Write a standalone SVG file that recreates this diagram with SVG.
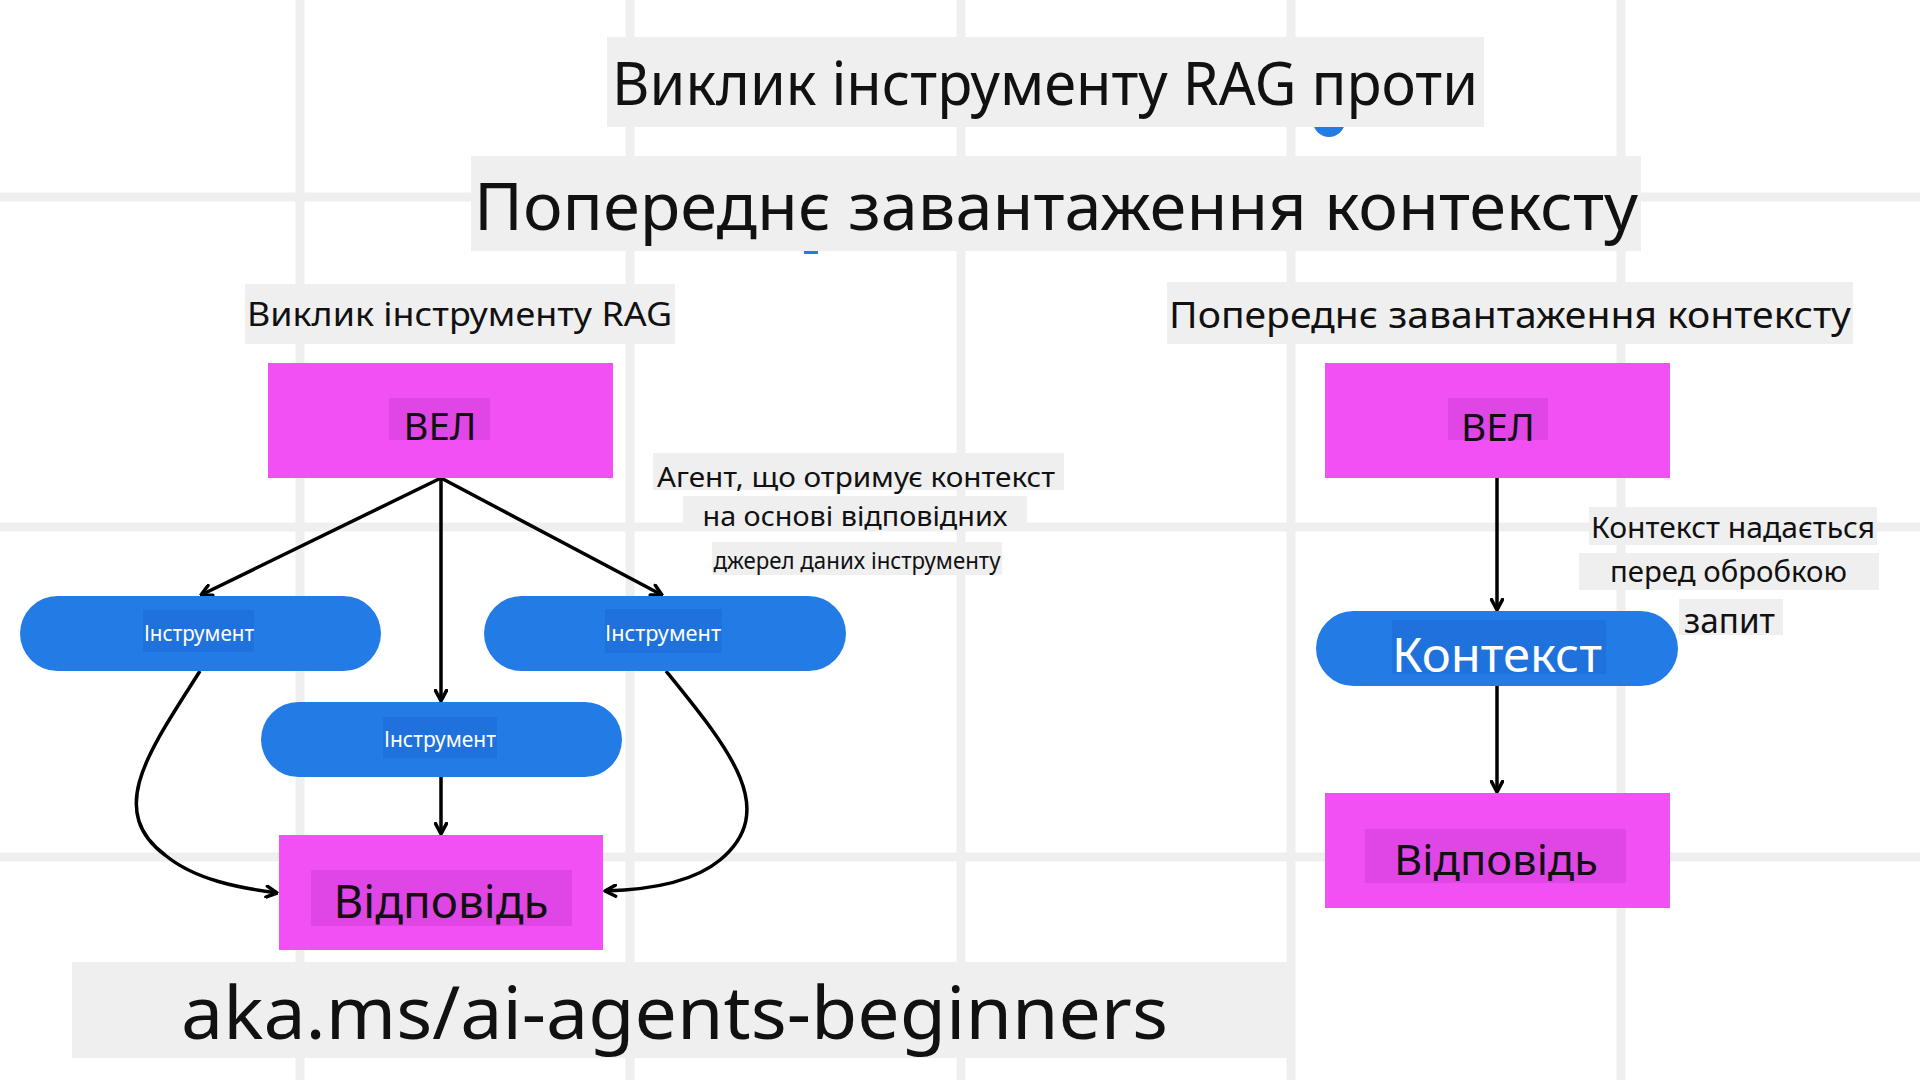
<svg xmlns="http://www.w3.org/2000/svg" width="1920" height="1080" viewBox="0 0 1920 1080">
<defs>
<style>
.grid{stroke:#efefef;stroke-width:9}
.lbl{fill:#efefef}
.t{font-family:"Noto Sans","Open Sans","DejaVu Sans",sans-serif;fill:#111;text-anchor:middle}
.w{font-family:"Noto Sans","Open Sans","DejaVu Sans",sans-serif;fill:#fff;text-anchor:middle}
.mag{fill:#f151f4}
.magi{fill:#e046e6}
.blue{fill:#237ce6}
.bluei{fill:#1f72db}
.con{fill:none;stroke:#000;stroke-width:3.5}
</style>
<marker id="ah" viewBox="0 0 14 14" refX="12.5" refY="7" markerWidth="14" markerHeight="14" markerUnits="userSpaceOnUse" orient="auto">
<path d="M2,1.5 L12.5,7 L2,12.5" fill="none" stroke="#000" stroke-width="3.5" stroke-linecap="round" stroke-linejoin="round"/>
</marker>
</defs>
<rect width="1920" height="1080" fill="#fff"/>
<g id="grid">
<line class="grid" x1="300" y1="0" x2="300" y2="1080"/>
<line class="grid" x1="630" y1="0" x2="630" y2="1080"/>
<line class="grid" x1="961" y1="0" x2="961" y2="1080"/>
<line class="grid" x1="1291" y1="0" x2="1291" y2="1080"/>
<line class="grid" x1="1621" y1="0" x2="1621" y2="1080"/>
<line class="grid" x1="0" y1="197" x2="1920" y2="197"/>
<line class="grid" x1="0" y1="527" x2="1920" y2="527"/>
<line class="grid" x1="0" y1="857" x2="1920" y2="857"/>
</g>
<g id="artifacts">
<circle cx="1329" cy="121" r="16" fill="#237ce6"/>
<rect x="804" y="238" width="14" height="16" fill="#237ce6"/>
</g>
<g id="title1">
<rect class="lbl" x="607" y="37" width="877" height="90"/>
<text class="t" x="1045" y="105" font-size="60" textLength="866" lengthAdjust="spacingAndGlyphs">Виклик інструменту RAG проти</text>
</g>
<g id="title2">
<rect class="lbl" x="471" y="156" width="1170" height="95"/>
<text class="t" x="1056" y="230" font-size="66" textLength="1164" lengthAdjust="spacingAndGlyphs">Попереднє завантаження контексту</text>
</g>
<g id="subtitle-left">
<rect class="lbl" x="245" y="284" width="430" height="60"/>
<text class="t" x="459.5" y="326" font-size="32" textLength="425" lengthAdjust="spacingAndGlyphs">Виклик інструменту RAG</text>
</g>
<g id="subtitle-right">
<rect class="lbl" x="1167" y="282" width="686" height="62"/>
<text class="t" x="1510" y="328" font-size="37" textLength="682" lengthAdjust="spacingAndGlyphs">Попереднє завантаження контексту</text>
</g>
<g id="connectors">
<line class="con" x1="441" y1="478" x2="201" y2="595" marker-end="url(#ah)"/>
<line class="con" x1="441" y1="478" x2="441" y2="701" marker-end="url(#ah)"/>
<line class="con" x1="441" y1="478" x2="662" y2="595" marker-end="url(#ah)"/>
<line class="con" x1="441" y1="777" x2="441" y2="834" marker-end="url(#ah)"/>
<path class="con" d="M200,671 C150,750 105,810 165,855 C195,880 240,888 277,893" marker-end="url(#ah)"/>
<path class="con" d="M666,671 C730,750 780,810 720,860 C690,885 640,890 605,891" marker-end="url(#ah)"/>
<line class="con" x1="1497" y1="478" x2="1497" y2="610" marker-end="url(#ah)"/>
<line class="con" x1="1497" y1="686" x2="1497" y2="792" marker-end="url(#ah)"/>
</g>
<g id="llm-left">
<rect class="mag" x="268" y="363" width="345" height="115"/>
<rect class="magi" x="389" y="398" width="101" height="42"/>
<text class="t" x="440" y="440" font-size="39" textLength="73" lengthAdjust="spacingAndGlyphs">ВЕЛ</text>
</g>
<g id="tool-left">
<rect class="blue" x="20" y="596" width="361" height="75" rx="37.5"/>
<rect class="bluei" x="143" y="610" width="111" height="42"/>
<text class="w" x="199" y="641" font-size="22" textLength="110" lengthAdjust="spacingAndGlyphs">Інструмент</text>
</g>
<g id="tool-right">
<rect class="blue" x="484" y="596" width="362" height="75" rx="37.5"/>
<rect class="bluei" x="605" y="609" width="117" height="44"/>
<text class="w" x="663" y="641" font-size="22" textLength="116" lengthAdjust="spacingAndGlyphs">Інструмент</text>
</g>
<g id="tool-middle">
<rect class="blue" x="261" y="702" width="361" height="75" rx="37.5"/>
<rect class="bluei" x="383" y="717" width="114" height="41"/>
<text class="w" x="440" y="747" font-size="22" textLength="112" lengthAdjust="spacingAndGlyphs">Інструмент</text>
</g>
<g id="answer-left">
<rect class="mag" x="279" y="835" width="324" height="115"/>
<rect class="magi" x="311" y="870" width="261" height="56"/>
<text class="t" x="441" y="918" font-size="45" textLength="215" lengthAdjust="spacingAndGlyphs">Відповідь</text>
</g>
<g id="agent-note">
<rect class="lbl" x="653" y="453" width="411" height="37"/>
<text class="t" x="856" y="487" font-size="28" textLength="398" lengthAdjust="spacingAndGlyphs">Агент, що отримує контекст</text>
<rect class="lbl" x="683" y="496" width="344" height="35"/>
<text class="t" x="855" y="526" font-size="28" textLength="305" lengthAdjust="spacingAndGlyphs">на основі відповідних</text>
<rect class="lbl" x="712" y="542" width="290" height="33"/>
<text class="t" x="857" y="569" font-size="23" textLength="287" lengthAdjust="spacingAndGlyphs">джерел даних інструменту</text>
</g>
<g id="llm-right">
<rect class="mag" x="1325" y="363" width="345" height="115"/>
<rect class="magi" x="1448" y="398" width="100" height="42"/>
<text class="t" x="1498" y="441" font-size="39" textLength="74" lengthAdjust="spacingAndGlyphs">ВЕЛ</text>
</g>
<g id="context">
<rect class="blue" x="1316" y="611" width="362" height="75" rx="37.5"/>
<rect class="bluei" x="1392" y="620" width="214" height="54"/>
<text class="w" x="1497" y="672" font-size="47" textLength="210" lengthAdjust="spacingAndGlyphs">Контекст</text>
</g>
<g id="answer-right">
<rect class="mag" x="1325" y="793" width="345" height="115"/>
<rect class="magi" x="1365" y="829" width="261" height="54"/>
<text class="t" x="1496" y="875" font-size="42" textLength="204" lengthAdjust="spacingAndGlyphs">Відповідь</text>
</g>
<g id="context-note">
<rect class="lbl" x="1589" y="507" width="288" height="38"/>
<text class="t" x="1733" y="538" font-size="29" textLength="284" lengthAdjust="spacingAndGlyphs">Контекст надається</text>
<rect class="lbl" x="1579" y="553" width="300" height="37"/>
<text class="t" x="1728.5" y="582" font-size="29" textLength="237" lengthAdjust="spacingAndGlyphs">перед обробкою</text>
<rect class="lbl" x="1679" y="599" width="104" height="36"/>
<text class="t" x="1729.5" y="633" font-size="34" textLength="91" lengthAdjust="spacingAndGlyphs">запит</text>
</g>
<g id="footer">
<rect class="lbl" x="72" y="962" width="1222" height="96"/>
<text class="t" x="674.5" y="1039" font-size="73" textLength="987" lengthAdjust="spacingAndGlyphs">aka.ms/ai-agents-beginners</text>
</g>
</svg>
